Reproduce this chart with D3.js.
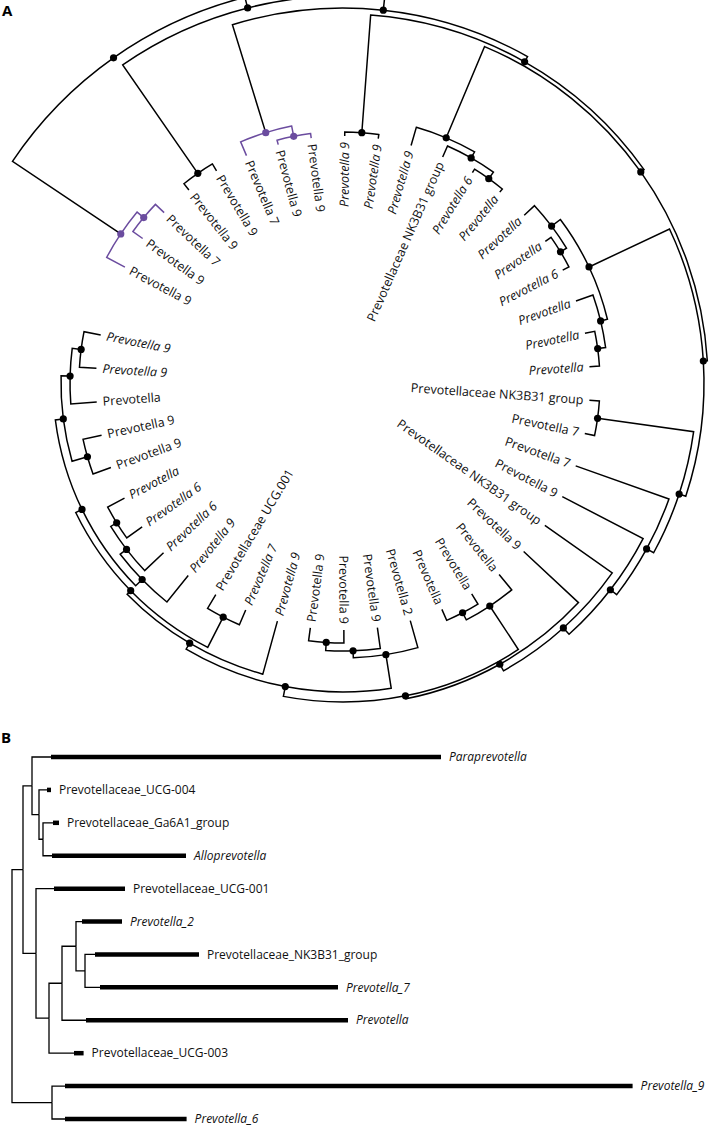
<!DOCTYPE html>
<html><head><meta charset="utf-8">
<script src="https://cdn.jsdelivr.net/npm/d3@7"></script>
<style>
body{margin:0;background:#fff;}
svg{display:block;font-family:"Open Sans","Noto Sans",sans-serif;}
</style></head><body>
<svg id="chart" width="712" height="1126"></svg>
<script>
// ================= Panel A data =================
const leafNamesA = [
  "Prevotella 9","Prevotella 9","Prevotella 7","Prevotella 9","Prevotella 9",
  "Prevotella 7","Prevotella 9","Prevotella 9","Prevotella 9","Prevotella 9",
  "Prevotella 9","Prevotellaceae NK3B31 group","Prevotella 6","Prevotella","Prevotella",
  "Prevotella","Prevotella 6","Prevotella","Prevotella","Prevotella",
  "Prevotellaceae NK3B31 group","Prevotella 7","Prevotella 7","Prevotella 9","Prevotellaceae NK3B31 group",
  "Prevotella 9","Prevotella","Prevotella","Prevotella","Prevotella 2",
  "Prevotella 9","Prevotella 9","Prevotella 9","Prevotella 9","Prevotella 7",
  "Prevotellaceae UCG.001","Prevotella 9","Prevotella 6","Prevotella 6","Prevotella",
  "Prevotella 9","Prevotella 9","Prevotella","Prevotella 9","Prevotella 9"
];
const leafItalicA = [
  0,0,0,0,0, 0,0,0,1,1, 1,0,1,1,1, 1,1,1,1,1, 0,0,0,0,0,
  0,0,0,0,0, 0,0,0,1,1, 0,1,1,1,1, 0,0,0,1,1
];
// side clades hanging off the backbone (leaf index, internal label = node height)
const sideCladesA = [
  "(0,(1,2)12)20.6", "(3,4)8", "(5,(6,7)4.6)15", "(8,9)4",
  "(10,(11,(12,13)4)12)19", "((14,(15,16)7)14,(17,(18,19)10)18)25",
  "(20,21)10", "22", "23", "24", "25", "(26,(27,28)12)20",
  "(29,(30,(31,32)13)21)28", "33", "(34,35)16",
  "(36,(37,(38,39)19)26)34", "((40,41)19,(42,(43,44)17)26)35"
];
const purpleCladesA = [0, 2];
const backboneHeightsA = [151,140,128,122,118,114,107,99,91,82.5,75,72,62,55,50,43];

// ================= Panel B data =================
const leafNamesB = [
  "Paraprevotella","Prevotellaceae_UCG-004","Prevotellaceae_Ga6A1_group","Alloprevotella",
  "Prevotellaceae_UCG-001","Prevotella_2","Prevotellaceae_NK3B31_group","Prevotella_7",
  "Prevotella","Prevotellaceae_UCG-003","Prevotella_9","Prevotella_6"
];
const leafItalicB = [1,0,0,1,0,1,0,1,1,0,1,1];
const barStartB = [39,35,41,40,42,70,83,88,74,62,53,53];
const barEndB   = [429,39,47,174,113,110,187,326,336,71.6,620.6,174.6];
const treeB = "(((0,(1,(2,3)31)27)20,(4,(((5,(6,7)73)64,8)50,9)37)24)11,(10,11)40)0";

// ================= helpers =================
function parseNewick(s){
  let i = 0;
  function label(){ const st = i; while(i < s.length && !",()".includes(s[i])) i++; return s.slice(st, i); }
  function node(){
    if (s[i] === "("){
      i++;
      const ch = [node()];
      while (s[i] === ","){ i++; ch.push(node()); }
      i++;
      return {h: +label(), children: ch};
    }
    return {leaf: +label(), h: 0};
  }
  return node();
}
function markAll(o, key){ o[key] = true; (o.children || []).forEach(c => markAll(c, key)); }

const svg = d3.select("#chart");
const PURPLE = "#6b4c9f";

// ================= Panel A =================
const clades = sideCladesA.map((s, k) => {
  const o = parseNewick(s);
  if (purpleCladesA.includes(k)) markAll(o, "purple");
  return o;
});
function backbone(i){
  const h = backboneHeightsA[i];
  if (i === backboneHeightsA.length - 1) return {h, children: [clades[i], clades[i + 1]]};
  return {h, children: [clades[i], backbone(i + 1)]};
}
const rootA = d3.hierarchy(backbone(0));
const cx = 343, cy = 383;
const angleA = d3.scaleLinear().domain([0, leafNamesA.length - 1]).range([298, 298 + 44 * 7.8]);
const radiusA = d3.scaleLinear().domain([0, 150]).range([247, 397]);
rootA.eachAfter(d => {
  if (!d.children) d.a = angleA(d.data.leaf);
  else d.a = (d.children[0].a + d.children[d.children.length - 1].a) / 2;
  d.r = radiusA(d.data.h);
});
function pt(a, r){ const t = a * Math.PI / 180; return [cx + r * Math.sin(t), cy - r * Math.cos(t)]; }

const gA = svg.append("g");
gA.selectAll("path.link").data(rootA.links()).join("path")
  .attr("fill", "none")
  .attr("stroke", d => d.source.data.purple ? PURPLE : "#000")
  .attr("stroke-width", 1.5)
  .attr("d", d => {
    const s = d.source, t = d.target;
    const p0 = pt(t.a, t.r), p1 = pt(t.a, s.r), p2 = pt(s.a, s.r);
    const sweep = s.a > t.a ? 1 : 0;
    const large = Math.abs(s.a - t.a) > 180 ? 1 : 0;
    return `M${p0[0]},${p0[1]}L${p1[0]},${p1[1]}A${s.r},${s.r} 0 ${large} ${sweep} ${p2[0]},${p2[1]}`;
  });
gA.selectAll("circle.node").data(rootA.descendants().filter(d => d.children)).join("circle")
  .attr("cx", d => pt(d.a, d.r)[0]).attr("cy", d => pt(d.a, d.r)[1])
  .attr("r", 3.6)
  .attr("fill", d => d.data.purple ? PURPLE : "#000");
gA.selectAll("text.leaf").data(rootA.leaves()).join("text")
  .attr("font-size", 12.5)
  .attr("fill", "#111")
  .attr("font-style", d => leafItalicA[d.data.leaf] ? "italic" : "normal")
  .attr("dy", "0.35em")
  .attr("text-anchor", d => (((d.a % 360) + 360) % 360) < 180 ? "end" : "start")
  .attr("transform", d => {
    const p = pt(d.a, d.r - 6);
    const m = ((d.a % 360) + 360) % 360;
    const rot = m < 180 ? m - 90 : m + 90;
    return `translate(${p[0]},${p[1]}) rotate(${rot})`;
  })
  .text(d => leafNamesA[d.data.leaf]);

svg.append("text").attr("x", 2).attr("y", 16).attr("font-size", 15).attr("font-weight", 700).text("A");

// ================= Panel B =================
const rootB = d3.hierarchy(parseNewick(treeB));
const xB = d3.scaleLinear().domain([0, 620.6]).range([12, 632.6]);
const yB = d3.scaleLinear().domain([0, leafNamesB.length - 1]).range([757, 1119]);
rootB.eachAfter(d => {
  if (!d.children){ d.x = xB(barStartB[d.data.leaf]); d.y = yB(d.data.leaf); }
  else { d.x = xB(d.data.h); d.y = (d.children[0].y + d.children[d.children.length - 1].y) / 2; }
});
const gB = svg.append("g");
gB.selectAll("path.blink").data(rootB.links()).join("path")
  .attr("fill", "none").attr("stroke", "#000").attr("stroke-width", 1.3)
  .attr("d", d => `M${d.source.x},${d.source.y}V${d.target.y}H${d.target.x}`);
gB.selectAll("line.bar").data(rootB.leaves()).join("line")
  .attr("x1", d => xB(barStartB[d.data.leaf])).attr("x2", d => xB(barEndB[d.data.leaf]))
  .attr("y1", d => d.y).attr("y2", d => d.y)
  .attr("stroke", "#000").attr("stroke-width", 4.5);
gB.selectAll("text.bl").data(rootB.leaves()).join("text")
  .attr("x", d => xB(barEndB[d.data.leaf]) + 8).attr("y", d => d.y)
  .attr("dy", "0.35em").attr("font-size", 12).attr("fill", "#111")
  .attr("font-style", d => leafItalicB[d.data.leaf] ? "italic" : "normal")
  .text(d => leafNamesB[d.data.leaf]);

svg.append("text").attr("x", 1).attr("y", 743).attr("font-size", 15).attr("font-weight", 700).text("B");
</script>
</body></html>
